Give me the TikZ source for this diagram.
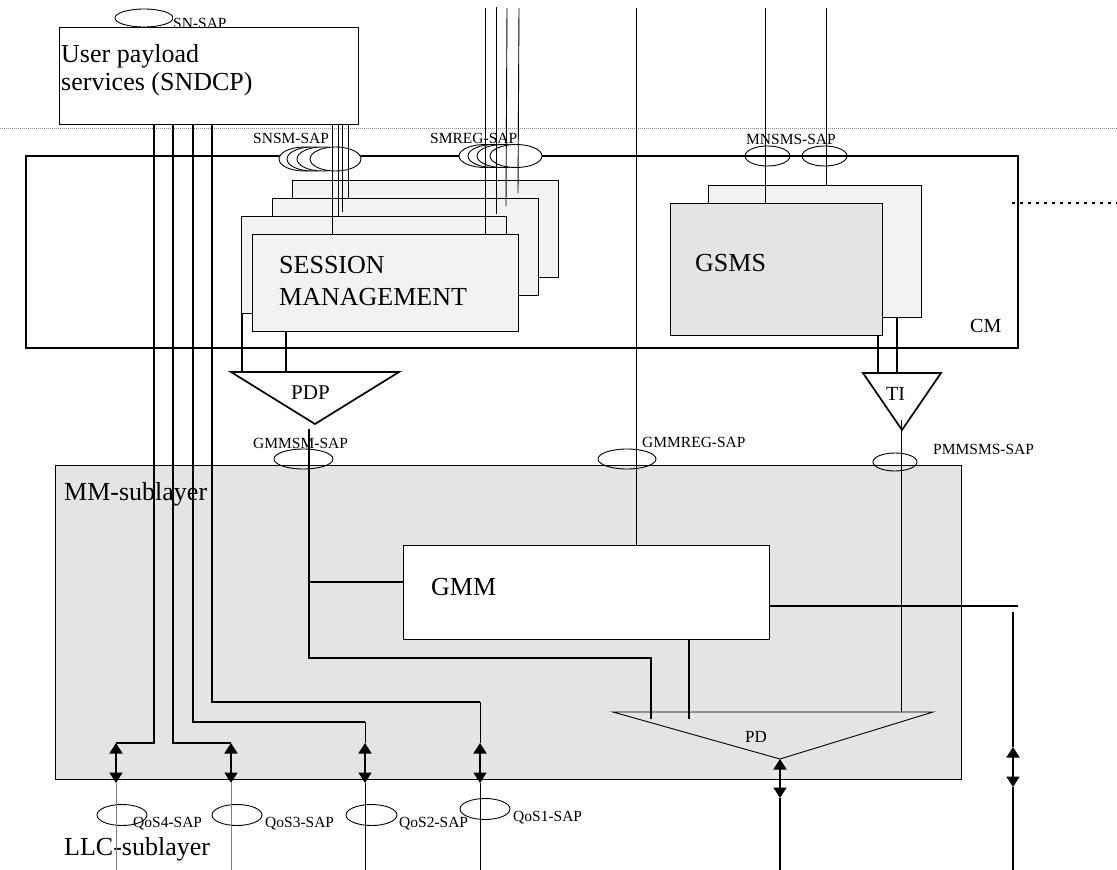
\documentclass[tikz,border=0pt]{standalone}
\usepackage{fontspec}
\setmainfont{Liberation Serif}
\usetikzlibrary{arrows.meta,shapes.geometric}
\definecolor{mmgray}{RGB}{228,228,228}
\definecolor{smgray}{RGB}{242,242,242}
\definecolor{dotgray}{RGB}{140,140,140}
\begin{document}
\begin{tikzpicture}[x=1pt,y=-1pt,
  ln/.style={line width=0.9pt},
  lnb/.style={line width=1.7pt},
  box/.style={draw, line width=0.9pt, inner sep=0pt, outer sep=0pt, anchor=north west},
  sap/.style={font=\fontsize{15.5}{17}\selectfont, inner sep=0pt, anchor=base west},
  big/.style={font=\fontsize{26}{29}\selectfont, inner sep=0pt, anchor=base west},
  mid/.style={font=\fontsize{20}{22}\selectfont, inner sep=0pt, anchor=base west},
  ell/.style={draw, ellipse, line width=0.9pt, inner sep=0pt, outer sep=0pt},
  dbl/.style={lnb, {Triangle[width=13pt,length=10.5pt]}-{Triangle[width=13pt,length=10.5pt]}}
]
\useasboundingbox (0,0) rectangle (1117,870);
\fill[white] (0,0) rectangle (1117,870);

% layer boxes
\node[box, fill=mmgray, minimum width=906pt, minimum height=314pt] (mm) at (55,465) {};
\node[box, line width=1.7pt, minimum width=992pt, minimum height=192pt] (cm) at (26,156) {};
\node[box, fill=white, minimum width=299pt, minimum height=97pt] (sndcp) at (59,27) {};

% dotted separators
\draw[dotgray, line width=0.7pt, dash pattern=on 0.8pt off 1.2pt] (0,128) -- (1117,128);
\draw[line width=1.5pt, dash pattern=on 3pt off 5pt] (1012,203) coordinate (dotA) -- (1117,203) coordinate (dotB);

% session management stack
\node[box, fill=smgray, minimum width=266pt, minimum height=97pt] (sm4) at (292,180) {};
\node[box, fill=smgray, minimum width=266pt, minimum height=97pt] (sm3) at (272,198) {};
\node[box, fill=smgray, minimum width=265pt, minimum height=97pt] (sm2) at (241,216) {};
\node[box, fill=smgray, minimum width=266pt, minimum height=97pt] (sm1) at (252,234) {};

% GSMS stack
\node[box, fill=smgray, minimum width=213pt, minimum height=132pt] (gs2) at (708,185) {};
\node[box, fill=mmgray, minimum width=212pt, minimum height=132pt] (gs1) at (670,203) {};

% GMM
\node[box, fill=white, minimum width=366pt, minimum height=94pt] (gmm) at (403,545) {};

% texts
\node[big] (t1) at (61,62) {User payload};
\node[big] (t2) at (61,90) {services (SNDCP)};
\node[big] (tsm1) at (279,273) {SESSION};
\node[big] (tsm2) at (279,305) {MANAGEMENT};
\node[big] (tgsms) at (695,271) {GSMS};
\node[big] (tgmm) at (431,595) {GMM};
\node[big] (tmm) at (64,500) {MM-sublayer};
\node[big] (tllc) at (64,855) {LLC-sublayer};
\node[mid] (tcm) at (970,332) {CM};
\node[mid, font=\fontsize{21}{23}\selectfont] (tpdp) at (291,399) {PDP};
\node[mid] (tti) at (886,400) {TI};
\node[sap, font=\fontsize{17}{19}\selectfont] (tpd) at (745,742) {PD};

% SAP ellipses
\node[ell, minimum width=58pt, minimum height=18pt] (snsap) at (144,18) {};
\fill[white] (173,17) rectangle (245,26.4);
\node[sap] (lsn) at (173,28) {SN-SAP};

\foreach \cx/\nm in {304.5/a,312.5/b,322.5/c,335.5/d}
  \node[ell, fill=white, minimum width=51pt, minimum height=24pt] (snsm\nm) at (\cx,159) {};
\foreach \cx/\nm in {485/a,494/b,503/c,516/d}
  \node[ell, fill=white, minimum width=52pt, minimum height=23pt] (smreg\nm) at (\cx,156) {};
\node[ell, minimum width=45pt, minimum height=20pt] (mnsmsa) at (767.5,156) {};
\node[ell, minimum width=45pt, minimum height=20pt] (mnsmsb) at (824.5,156) {};
\node[ell, minimum width=59pt, minimum height=20pt] (gmmsm) at (303.5,459) {};
\node[ell, minimum width=58pt, minimum height=20pt] (gmmreg) at (627,459) {};
\node[ell, minimum width=44pt, minimum height=18pt] (pmmsms) at (895,462) {};
\node[ell, minimum width=50pt, minimum height=21pt] (qos4) at (122,815) {};
\node[ell, minimum width=50pt, minimum height=21pt] (qos3) at (237,815) {};
\node[ell, minimum width=51pt, minimum height=21pt] (qos2) at (371.5,815) {};
\node[ell, minimum width=50pt, minimum height=21pt] (qos1) at (485,809) {};

\node[sap] (lsnsm) at (253,143) {SNSM-SAP};
\node[sap] (lsmreg) at (430,143) {SMREG-SAP};
\node[sap] (lmnsms) at (746,144) {MNSMS-SAP};
\node[sap] (lgmmsm) at (253,448) {GMMSM-SAP};
\node[sap] (lgmmreg) at (642,447) {GMMREG-SAP};
\node[sap] (lpmmsms) at (933,454) {PMMSMS-SAP};
\node[sap] (lq4) at (133,827) {QoS4-SAP};
\node[sap] (lq3) at (265,827) {QoS3-SAP};
\node[sap] (lq2) at (399,827) {QoS2-SAP};
\node[sap] (lq1) at (513,821) {QoS1-SAP};

% triangles
\coordinate (pdpL) at (231,372); \coordinate (pdpR) at (399,372); \coordinate (pdpB) at (315,424);
\draw[lnb, line join=miter] (pdpL) -- (pdpR) -- (pdpB) -- cycle;
\coordinate (tiL) at (863,373); \coordinate (tiR) at (941,373); \coordinate (tiB) at (902,430);
\draw[lnb, line join=miter] (tiL) -- (tiR) -- (tiB) -- cycle;
\coordinate (pdL) at (613,712); \coordinate (pdR) at (933,712); \coordinate (pdB) at (780,759);
\draw[ln] (pdL) -- (pdR) -- (pdB) -- cycle;

% SNSM lines
\draw[ln] (sndcp.south -| 332,0) -- (sm1.north -| 332,0);
\draw[ln] (sndcp.south -| 338,0) -- (338,216);
\draw[ln] (sndcp.south -| 342,0) -- (342,212);
\draw[ln] (sndcp.south -| 348,0) -- (348,198);
% SMREG lines
\draw[ln] (485,8) -- (sm1.north -| 485,0);
\draw[ln] (496,7) -- (496,214);
\draw[ln] (507,8) -- (506,206);
\draw[ln] (519,8) -- (518,193);
% GMMREG and GSMS lines
\draw[ln] (636,8) -- (gmm.north -| 636,0);
\draw[ln] (765,8) -- (gs1.north -| 765,0);
\draw[ln] (826,8) -- (gs2.north -| 826,0);

% SM to PDP
\draw[lnb] (242,313) -- (242,372);
\draw[lnb] (sm1.south -| 286,0) -- (286,372);
% GSMS to TI
\draw[lnb] (gs1.south -| 878,0) -- (878,373);
\draw[lnb] (gs2.south -| 897,0) -- (897,373);

% PDP to GMM / PD
\draw[lnb] (309,429) |- (651,658) -- (651,719);
\draw[lnb] (309,582) -- (gmm.west |- 0,582);
\draw[lnb] (gmm.south -| 689,0) -- (689,719);
% TI to PD
\draw[ln] (901,420) -- (901,712);
% GMM to right
\draw[lnb] (gmm.east |- 0,606) -- (1018,606);
\draw[lnb] (1013,612) -- (1013,747);
\draw[dbl] (1013,747) -- (1013,787);
\draw[lnb] (1013,787) -- (1013,870);
% PD to bottom
\draw[dbl] (pdB) -- (780,798);
\draw[lnb] (780,798) -- (780,870);

% SNDCP routing to QoS
\draw[lnb] (sndcp.south -| 154,0) |- (116,743);
\draw[lnb] (sndcp.south -| 173,0) |- (231,743);
\draw[lnb] (sndcp.south -| 193,0) |- (365,722);
\draw[ln] (365,722) -- (365,743);
\draw[lnb] (sndcp.south -| 212,0) |- (480,702);
\draw[ln] (480,702) -- (480,743);
\foreach \qx in {116,231,365,480}
  \draw[dbl] (\qx,743) -- (\qx,783);
\draw[ln, gray] (116,783) -- (116,870);
\draw[ln, gray] (231,783) -- (231,870);
\draw[ln] (365,783) -- (365,870);
\draw[ln] (480,783) -- (480,870);
\end{tikzpicture}
\end{document}
